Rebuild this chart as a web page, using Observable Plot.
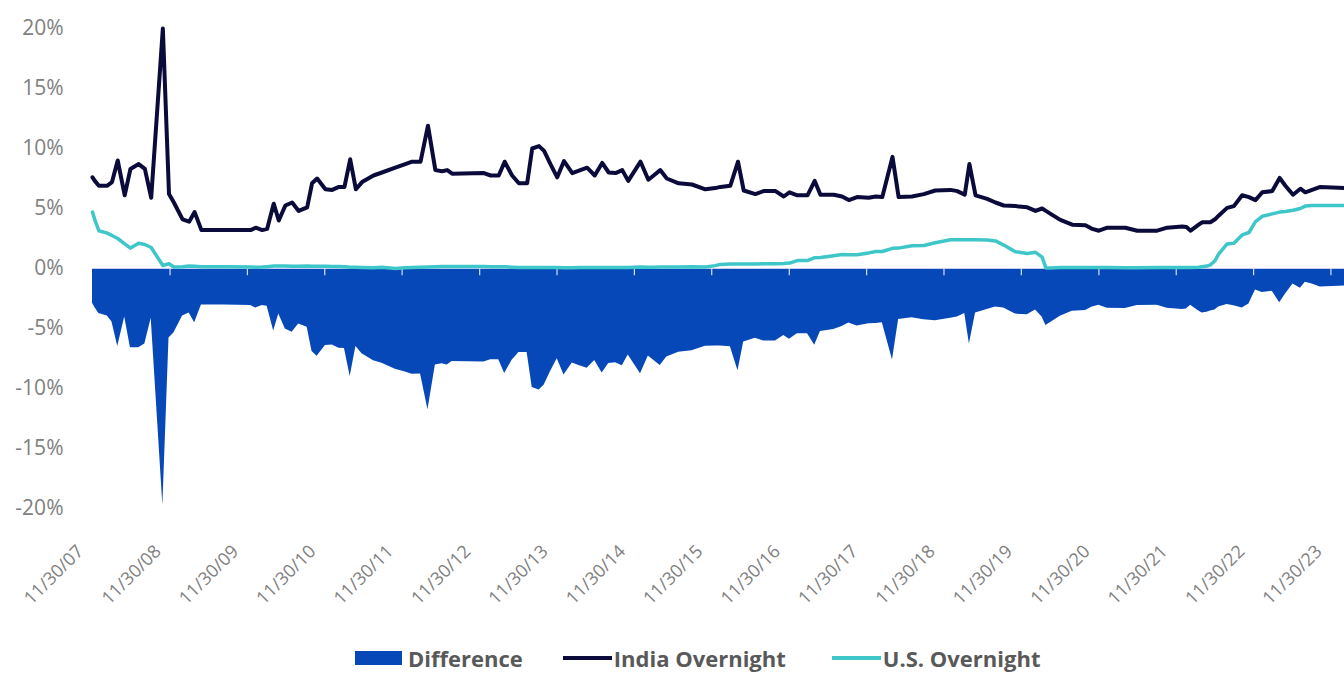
<!DOCTYPE html>
<html>
<head>
<meta charset="utf-8">
<script src="https://cdn.jsdelivr.net/npm/d3@7"></script>
<script src="https://cdn.jsdelivr.net/npm/@observablehq/plot@0.6"></script>
<style>
  html, body { margin: 0; padding: 0; background: #fff; }
  #chart { position: relative; width: 1344px; height: 673px; }
  #legend { position: absolute; left: 355px; top: 647px; height: 22px; display: flex; align-items: center;
            font-family: "Open Sans", sans-serif; font-weight: 700; font-size: 22px; line-height: 22px; color: #595959; }
  .item { display: flex; align-items: center; }
  .box { width: 47px; height: 14px; background: #0648b8; margin-right: 6px; }
  .ln { width: 49px; height: 4px; margin-right: 2px; }
</style>
</head>
<body>
<div id="chart"></div>
<script>
const dates = [
"2007-11-30","2007-12-11","2007-12-30","2008-02-08","2008-03-01","2008-03-28","2008-04-30","2008-05-27","2008-07-05","2008-08-03","2008-09-02",
"2008-10-27","2008-11-25","2008-12-18","2009-01-28","2009-02-28","2009-03-26","2009-04-27","2009-08-15","2009-12-15","2010-01-08",
"2010-02-08","2010-03-03","2010-04-03","2010-04-27","2010-05-28","2010-06-29","2010-07-30","2010-09-08","2010-10-01","2010-10-25",
"2010-12-03","2011-01-04","2011-02-05","2011-03-03","2011-03-30","2011-04-26","2011-05-25","2011-07-18","2011-08-27","2011-10-29",
"2011-12-15","2012-01-16","2012-02-25","2012-03-31","2012-05-05","2012-06-06","2012-06-30","2012-07-23","2012-12-20","2013-01-21",
"2013-02-28","2013-03-28","2013-05-02","2013-06-03","2013-07-12","2013-08-05","2013-09-06","2013-09-30","2013-10-30","2013-12-01",
"2014-01-02","2014-02-10","2014-03-20","2014-04-21","2014-05-27","2014-07-01","2014-08-01","2014-09-02","2014-10-04","2014-11-01",
"2014-12-29","2015-02-04","2015-03-01","2015-04-01","2015-05-02","2015-06-27","2015-08-29","2015-10-31","2015-12-17","2016-01-10",
"2016-02-26","2016-04-02","2016-04-29","2016-06-23","2016-08-01","2016-09-26","2016-11-04","2016-12-01","2017-01-07","2017-02-24",
"2017-03-30","2017-04-26","2017-06-28","2017-08-06","2017-09-07","2017-10-16","2017-12-10","2018-01-12","2018-02-12","2018-04-01",
"2018-04-30","2018-07-02","2018-08-27","2018-10-20","2018-12-31","2019-02-01","2019-03-08","2019-03-30","2019-04-28","2019-06-22",
"2019-07-31","2019-09-08","2019-11-02","2019-12-28","2020-02-05","2020-03-07","2020-03-25","2020-04-16","2020-06-01","2020-07-27",
"2020-09-28","2020-10-30","2020-11-30","2021-01-09","2021-04-04","2021-05-30","2021-09-01","2021-10-18","2021-12-28","2022-01-17",
"2022-02-06","2022-03-16","2022-04-01","2022-04-24","2022-05-10","2022-06-01","2022-06-18","2022-07-28","2022-08-29","2022-10-07",
"2022-11-08","2022-12-09","2023-01-10","2023-02-26","2023-04-02","2023-04-29","2023-06-04","2023-07-09","2023-08-01","2023-09-02",
"2023-10-11","2024-02-02"
];
const india = [
7.6,7.3,6.9,6.9,7.2,9.0,6.1,8.3,8.7,8.3,5.9,
20.0,6.2,5.5,4.1,3.9,4.7,3.2,3.2,3.2,3.4,
3.2,3.3,5.4,4.0,5.25,5.5,4.8,5.1,7.1,7.5,
6.6,6.55,6.8,6.8,9.1,6.6,7.2,7.75,8.0,8.4,
8.7,8.9,8.9,11.9,8.2,8.1,8.2,7.9,7.95,7.75,
7.75,8.9,7.75,7.1,7.1,10.0,10.2,9.8,8.7,7.6,
8.95,7.95,8.2,8.4,7.75,8.8,8.0,7.95,8.2,7.3,
8.9,7.4,7.75,8.2,7.5,7.1,7.0,6.6,6.7,6.8,
6.9,8.9,6.5,6.2,6.45,6.45,6.0,6.35,6.1,6.1,
7.3,6.15,6.15,6.0,5.7,5.95,5.9,6.0,5.95,9.3,
5.95,6.0,6.2,6.5,6.55,6.45,6.15,8.7,6.1,5.8,
5.5,5.25,5.2,5.1,4.8,5.0,4.8,4.55,4.05,3.65,
3.6,3.3,3.15,3.4,3.4,3.15,3.15,3.4,3.5,3.45,
3.15,3.65,3.85,3.85,3.85,4.1,4.4,5.05,5.2,6.1,
5.95,5.7,6.35,6.45,7.55,6.9,6.15,6.65,6.35,6.55,
6.8,6.7
];
const us = [
4.7,4.05,3.15,2.95,2.75,2.5,2.05,1.7,2.1,2.0,1.75,
0.25,0.4,0.12,0.15,0.2,0.18,0.15,0.15,0.12,0.11,
0.12,0.15,0.2,0.2,0.2,0.18,0.18,0.2,0.19,0.19,
0.19,0.17,0.16,0.14,0.1,0.1,0.09,0.07,0.1,0.0,
0.07,0.08,0.1,0.13,0.15,0.16,0.16,0.16,0.16,0.14,
0.15,0.14,0.11,0.09,0.09,0.08,0.08,0.08,0.09,0.08,
0.07,0.07,0.08,0.09,0.09,0.09,0.09,0.09,0.09,0.09,
0.12,0.11,0.11,0.12,0.12,0.13,0.14,0.12,0.24,0.34,
0.37,0.37,0.37,0.38,0.4,0.4,0.41,0.45,0.66,0.66,
0.9,0.91,1.06,1.16,1.15,1.15,1.3,1.42,1.42,1.68,
1.7,1.9,1.92,2.15,2.4,2.4,2.4,2.4,2.4,2.38,
2.3,1.95,1.4,1.25,1.35,0.95,0.05,0.05,0.08,0.09,
0.09,0.09,0.09,0.09,0.07,0.06,0.08,0.08,0.08,0.08,
0.08,0.1,0.15,0.2,0.3,0.65,1.2,2.05,2.1,2.8,
3.0,3.9,4.35,4.55,4.7,4.75,4.85,5.0,5.2,5.25,
5.25,5.25
];
const xTickLabels = ["11/30/07","11/30/08","11/30/09","11/30/10","11/30/11","11/30/12","11/30/13","11/30/14","11/30/15","11/30/16","11/30/17","11/30/18","11/30/19","11/30/20","11/30/21","11/30/22","11/30/23"];
const yTicks = [-20,-15,-10,-5,0,5,10,15,20];
const seriesNames = ["Difference","India Overnight","U.S. Overnight"];
const colors = ["#0648b8","#0b0b3b","#3ec6c8"];

const parseTick = d3.utcParse("%m/%d/%y");
const xTicks = xTickLabels.map(parseTick);
const table = dates.map((d, i) => ({date: new Date(d), india: india[i], us: us[i], diff: us[i] - india[i]}));

const chart = Plot.plot({
  width: 1344,
  height: 625,
  marginLeft: 92,
  marginRight: 0,
  marginTop: 28,
  marginBottom: 117,
  style: {fontFamily: "Open Sans, sans-serif", fontSize: "19px", color: "#808080", background: "#fff", overflow: "visible"},
  x: {type: "utc", domain: [new Date("2007-11-30"), new Date("2024-02-02")]},
  y: {domain: [-20, 20]},
  marks: [
    Plot.areaY(table, {x: "date", y: "diff", fill: colors[0]}),
    Plot.ruleY([0], {stroke: "#c9cdf2", strokeWidth: 1.2}),
    Plot.ruleX(xTicks.slice(1), {x: d => d, y1: 0, y2: -0.6, stroke: "#d9dcf6", strokeWidth: 1.2}),
    Plot.lineY(table, {x: "date", y: "us", stroke: colors[2], strokeWidth: 3.5}),
    Plot.lineY(table, {x: "date", y: "india", stroke: colors[1], strokeWidth: 4}),
    Plot.axisY({ticks: yTicks, tickFormat: d => `${d}%`, tickSize: 0, tickPadding: 29, fontSize: 21}),
    Plot.axisX({ticks: xTicks, tickFormat: d3.utcFormat("%m/%d/%y"), tickRotate: -45, tickSize: 0, tickPadding: 40, dx: -12, fontSize: 18})
  ]
});
document.getElementById("chart").appendChild(chart);

const legend = document.createElement("div");
legend.id = "legend";
legend.innerHTML = `
  <div class="item"><div class="box"></div><span>${seriesNames[0]}</span></div>
  <div class="item" style="margin-left:40px"><div class="ln" style="background:${colors[1]}"></div><span>${seriesNames[1]}</span></div>
  <div class="item" style="margin-left:46px"><div class="ln" style="background:${colors[2]}"></div><span>${seriesNames[2]}</span></div>`;
document.getElementById("chart").appendChild(legend);
</script>
</body>
</html>
